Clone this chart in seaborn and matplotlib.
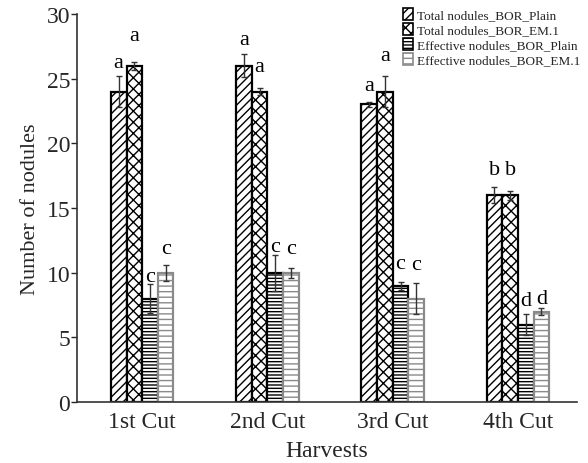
import numpy as np
import pandas as pd
import seaborn as sns
import matplotlib
matplotlib.use("Agg")
import matplotlib.pyplot as plt
from matplotlib.patches import Patch
from matplotlib.container import BarContainer

harvests = ["1st Cut", "2nd Cut", "3rd Cut", "4th Cut"]
series = ["Total nodules_BOR_Plain", "Total nodules_BOR_EM.1",
          "Effective nodules_BOR_Plain", "Effective nodules_BOR_EM.1"]

total_plain = [24, 26, 23, 16]
total_em1 = [26, 24, 24, 16]
eff_plain = [8, 10, 9, 6]
eff_em1 = [10, 10, 8, 7]

err_total_plain = [1.2, 0.9, 0.2, 0.6]
err_total_em1 = [0.3, 0.3, 1.2, 0.35]
err_eff_plain = [1.1, 1.4, 0.3, 0.8]
err_eff_em1 = [0.6, 0.4, 1.2, 0.3]

letters_total_plain = ["a", "a", "a", "b"]
letters_total_em1 = ["a", "a", "a", "b"]
letters_eff_plain = ["c", "c", "c", "d"]
letters_eff_em1 = ["c", "c", "c", "d"]

letter_y_total_plain = [25.9, 27.7, 24.1, 17.6]
letter_y_total_em1 = [28.0, 25.6, 26.4, 17.6]
letter_y_eff_plain = [9.4, 11.7, 10.4, 7.5]
letter_y_eff_em1 = [11.5, 11.5, 10.3, 7.7]

values = [total_plain, total_em1, eff_plain, eff_em1]
errors = [err_total_plain, err_total_em1, err_eff_plain, err_eff_em1]
letters = [letters_total_plain, letters_total_em1, letters_eff_plain, letters_eff_em1]
letter_ys = [letter_y_total_plain, letter_y_total_em1, letter_y_eff_plain, letter_y_eff_em1]

rows = []
for s, vals in zip(series, values):
    for h, v in zip(harvests, vals):
        rows.append({"Harvest": h, "Series": s, "Value": v})
df = pd.DataFrame(rows)

sns.set_style("white")
plt.rcParams["font.family"] = ["Liberation Serif", "DejaVu Serif"]
plt.rcParams["hatch.linewidth"] = 1.0

hatches = ["////", "xxx", "-----", "---"]
edgecolors = ["black", "black", "black", "#8a8a8a"]

fig = plt.figure(figsize=(5.88, 4.64), dpi=100)
ax = fig.add_axes([0.131, 0.131, 0.85, 0.837])

sns.barplot(data=df, x="Harvest", y="Value", hue="Series", order=harvests,
            hue_order=series, palette=["white"] * 4, width=0.5,
            errorbar=None, ax=ax, legend=False, saturation=1)

bar_containers = [c for c in ax.containers if isinstance(c, BarContainer)]
for i, cont in enumerate(bar_containers):
    for j, bar in enumerate(cont.patches):
        bar.set_facecolor("white")
        bar.set_edgecolor(edgecolors[i])
        bar.set_hatch(hatches[i])
        bar.set_linewidth(1.6)
        xc = bar.get_x() + bar.get_width() / 2
        h = bar.get_height()
        ax.errorbar(xc, h, yerr=errors[i][j], fmt="none", ecolor="#333333",
                    elinewidth=1.0, capsize=2.0, capthick=1.0, zorder=5)
        ax.text(xc, letter_ys[i][j], letters[i][j], ha="center", va="baseline",
                fontsize=16, color="black")

ax.set_ylim(0, 30)
ax.set_yticks(np.arange(0, 31, 5))
ax.set_xlim(-0.52, 3.47)
ax.set_xlabel("Harvests", fontsize=17, labelpad=6)
ax.set_ylabel("Number of nodules", fontsize=16, labelpad=5)
ax.tick_params(axis="y", labelsize=17, length=4, width=1, direction="out", left=True, pad=1)
ax.tick_params(axis="x", labelsize=17, length=0, pad=6)
sns.despine(ax=ax, top=True, right=True)
for sp in ["left", "bottom"]:
    ax.spines[sp].set_color("#333333")
    ax.spines[sp].set_linewidth(1.2)

handles = [Patch(facecolor="white", edgecolor=edgecolors[i], hatch=hatches[i], linewidth=1.2)
           for i in range(4)]
fig.legend(handles, series, loc="upper right", bbox_to_anchor=(1.003, 1.0),
           frameon=False, fontsize=9.5, handlelength=0.8, handleheight=1.0,
           handletextpad=0.3, labelspacing=0.12, borderpad=0.2)

fig.savefig("out.png", dpi=100)
